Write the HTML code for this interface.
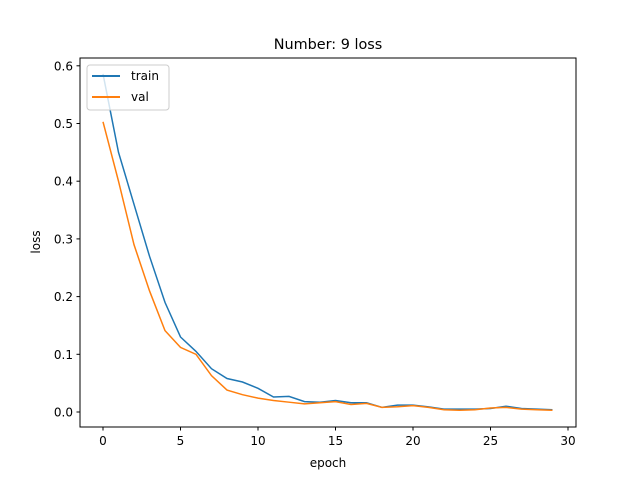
<!DOCTYPE html>
<html><head><meta charset="utf-8"><style>
body{margin:0;background:#fff}
svg{display:block;font-family:"DejaVu Sans","Liberation Sans",sans-serif}
</style></head><body>
<svg id="chart" width="640" height="480">
<rect width="640" height="480" fill="#fff"/>
<text x="328" y="49" text-anchor="middle" font-size="14.4">Number: 9 loss</text>
<g id="ticks"></g>
<g id="lines"></g>
<rect x="80" y="58" width="496" height="369" fill="none" stroke="#000" stroke-width="1"/>
<text x="328" y="467" text-anchor="middle" font-size="12">epoch</text>
<text x="40" y="242" text-anchor="middle" font-size="12" transform="rotate(-90 40 242)">loss</text>
<g>
<rect x="87" y="65" width="82" height="45" rx="3" fill="#fff" fill-opacity="0.8" stroke="#ccc"/>
<line x1="92" y1="76" x2="120" y2="76" stroke="#1f77b4" stroke-width="2"/>
<text x="131" y="80" font-size="12">train</text>
<line x1="92" y1="97" x2="120" y2="97" stroke="#ff7f0e" stroke-width="2"/>
<text x="131" y="101" font-size="12">val</text>
</g>
</svg>
<script>
const epochs=[...Array(30).keys()];
const trainLoss=[0.586,0.45,0.36,0.27,0.19,0.13,0.105,0.075,0.058,0.052,0.041,0.026,0.027,0.018,0.017,0.02,0.016,0.016,0.008,0.012,0.012,0.009,0.005,0.005,0.005,0.006,0.010,0.006,0.005,0.004];
const valLoss=[0.503,0.40,0.29,0.21,0.141,0.112,0.10,0.063,0.038,0.030,0.024,0.020,0.017,0.014,0.016,0.018,0.013,0.015,0.008,0.009,0.011,0.008,0.004,0.003,0.004,0.007,0.008,0.005,0.004,0.003];
const xTicks=[0,5,10,15,20,25,30];
const yTicks=[0.0,0.1,0.2,0.3,0.4,0.5,0.6];
const X=v=>103+v*15.5;
const Y=v=>412-v*577;
const NS="http://www.w3.org/2000/svg";
const tg=document.getElementById('ticks');
xTicks.forEach(t=>{
const l=document.createElementNS(NS,'line');
l.setAttribute('x1',X(t));l.setAttribute('x2',X(t));l.setAttribute('y1',427);l.setAttribute('y2',430.5);l.setAttribute('stroke','#000');


tg.appendChild(l);
const tx=document.createElementNS(NS,'text');
tx.setAttribute('x',X(t));tx.setAttribute('y',445);tx.setAttribute('text-anchor','middle');tx.setAttribute('font-size','12');
tx.textContent=t;


tg.appendChild(tx);
});
yTicks.forEach(t=>{
const l=document.createElementNS(NS,'line');
l.setAttribute('x1',76.5);l.setAttribute('x2',80);l.setAttribute('y1',Y(t));l.setAttribute('y2',Y(t));l.setAttribute('stroke','#000');


tg.appendChild(l);
const tx=document.createElementNS(NS,'text');
tx.setAttribute('x',73);tx.setAttribute('y',Y(t)+4.5);tx.setAttribute('text-anchor','end');tx.setAttribute('font-size','12');
tx.textContent=t.toFixed(1);


tg.appendChild(tx);
});
const lg=document.getElementById('lines');
function line(data,color,name){
const p=document.createElementNS(NS,'polyline');
p.setAttribute('points',data.map((v,i)=>X(epochs[i])+','+Y(v)).join(' '));
p.setAttribute('fill','none');p.setAttribute('stroke',color);p.setAttribute('stroke-width','1.5');


lg.appendChild(p);
}
line(trainLoss,'#1f77b4','train-line');
line(valLoss,'#ff7f0e','val-line');
</script>
</body></html>
